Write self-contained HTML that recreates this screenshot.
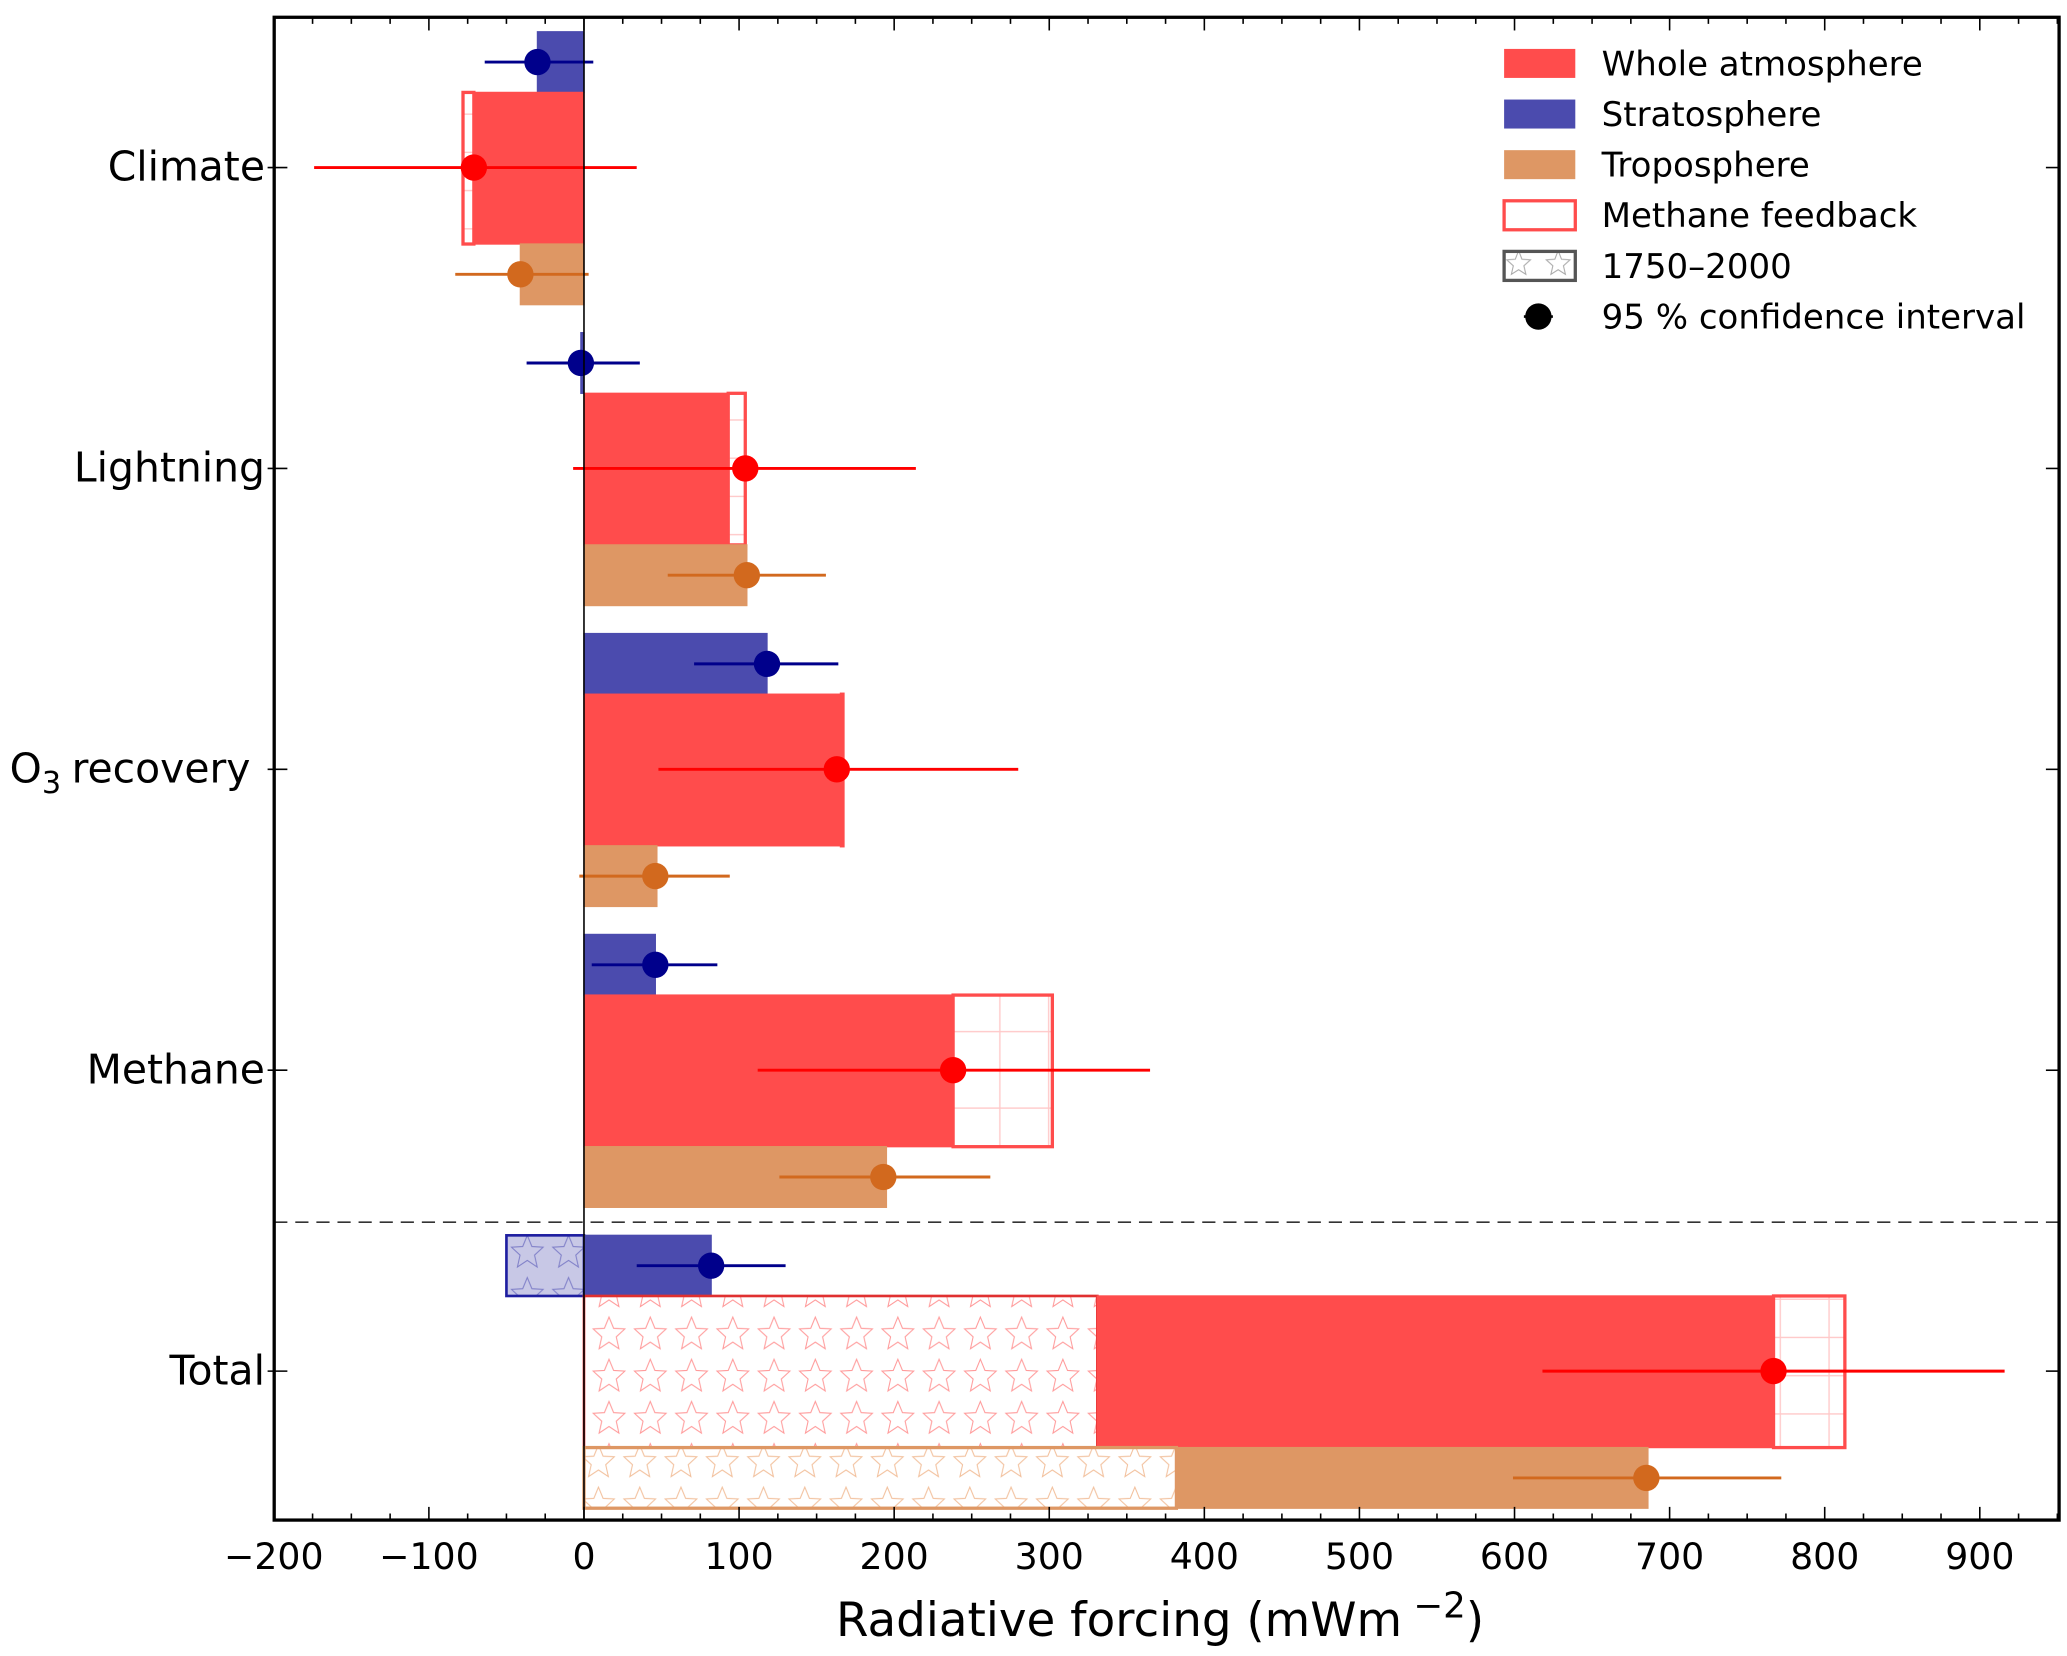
<!DOCTYPE html>
<html><head><meta charset="utf-8"><style>
html,body{margin:0;padding:0;background:#fff}
svg{display:block}
text{font-family:"DejaVu Sans","Liberation Sans",sans-serif}
</style></head><body>
<svg id="chart" width="2067" height="1656" viewBox="0 0 1568 1256" xmlns="http://www.w3.org/2000/svg">
<defs>
<pattern id="starsRed" patternUnits="userSpaceOnUse" width="31.3" height="32" x="447" y="997"><path d="M15,2 L18.5,10.5 L27,11 L20.5,17 L22.5,26 L15,21 L7.5,26 L9.5,17 L3,11 L11.5,10.5 Z" fill="none" stroke="#ff9a9a" stroke-width="0.8"/></pattern>
<pattern id="starsOrange" patternUnits="userSpaceOnUse" width="31.3" height="32" x="439" y="1094"><path d="M15,2 L18.5,10.5 L27,11 L20.5,17 L22.5,26 L15,21 L7.5,26 L9.5,17 L3,11 L11.5,10.5 Z" fill="none" stroke="#f2c09c" stroke-width="0.8"/></pattern>
<pattern id="starsBlue" patternUnits="userSpaceOnUse" width="31.3" height="32" x="385" y="935"><path d="M15,2 L18.5,10.5 L27,11 L20.5,17 L22.5,26 L15,21 L7.5,26 L9.5,17 L3,11 L11.5,10.5 Z" fill="none" stroke="#8080c8" stroke-width="0.8"/></pattern>
<pattern id="starsGrey" patternUnits="userSpaceOnUse" width="30" height="24" x="1141" y="189"><path d="M11,1 L13.5,7.5 L20,8 L15,12.5 L16.5,19 L11,15.5 L5.5,19 L7,12.5 L2,8 L8.5,7.5 Z" fill="none" stroke="#aaa" stroke-width="0.8"/></pattern>
<pattern id="grid" patternUnits="userSpaceOnUse" width="37" height="29"><path d="M18.5,0 V29 M0,28.5 H37" stroke="#ffc8c8" stroke-width="1" fill="none"/></pattern>
</defs>
<g id="plot"></g>
</svg>
<script>
const categories = ["Climate","Lightning","O3 recovery","Methane","Total"];
const stratVal = [-30, -2, 118, 46, 82];
const stratLo = [-64, -37, 71, 5, 34];
const stratHi = [6, 36, 164, 86, 130];
const wholeVal = [-71, 93, 166, 238, 767];
const wholeFeedback = [-78, 104, 167, 302, 813];
const wholePoint = [-71, 104, 163, 238, 767];
const wholeLo = [-174, -7, 48, 112, 618];
const wholeHi = [34, 214, 280, 365, 916];
const tropVal = [-41, 105, 47, 195, 686];
const tropPoint = [-41, 105, 46, 193, 685];
const tropLo = [-83, 54, -3, 126, 599];
const tropHi = [3, 156, 94, 262, 772];
const preStrat = -50, preWhole = 331, preTrop = 382;
const xTicks = [-200,-100,0,100,200,300,400,500,600,700,800,900];

const NS="http://www.w3.org/2000/svg";
const L=208,R=1562,T=13,B=1153;
const X=v=>443+v*1.1765;
const Y=i=>127+i*228.25;
const g=document.getElementById('plot');
function el(tag,attrs,parent){const e=document.createElementNS(NS,tag);for(const k in attrs)e.setAttribute(k,attrs[k]);(parent||g).appendChild(e);return e;}
function rect(v0,v1,y0,h,attrs){const a=Math.min(X(v0),X(v1)),b=Math.max(X(v0),X(v1));attrs.x=a;attrs.y=y0;attrs.width=Math.max(b-a,0.8);attrs.height=h;return el('rect',attrs);}

const sep=el('line',{x1:L,x2:R,y1:927,y2:927,stroke:'#333','stroke-width':1.2,'stroke-dasharray':'10,6'});



categories.forEach((c,i)=>{
  const cy=Y(i);
  if(i===4){let r=rect(preStrat,0,cy-103,46,{fill:'#c8c8e6',stroke:'none'});
    
    
    rect(preStrat,0,cy-103,46,{fill:'url(#starsBlue)',stroke:'#1e1ea0','stroke-width':2});}
  let s=rect(0,stratVal[i],cy-103,46,{fill:'#4b4bae',stroke:'#4b4bae','stroke-width':1});
  
  
  if(i===4){let r=rect(0,preWhole,cy-57,115,{fill:'url(#starsRed)',stroke:'#e03030','stroke-width':2});
    
    }
  let fb=rect(wholeVal[i],wholeFeedback[i],cy-57,115,{fill:'url(#grid)',stroke:'#ff4c4c','stroke-width':2.5});
  
  
  let w=rect(i===4?preWhole:0,wholeVal[i],cy-57,115,{fill:'#ff4c4c',stroke:'#ff4c4c','stroke-width':1});
  
  
  if(i===4){let r=rect(0,preTrop,cy+58,46,{fill:'url(#starsOrange)',stroke:'#de9764','stroke-width':2.5});
    
    }
  let t=rect(i===4?preTrop:0,tropVal[i],cy+58,46,{fill:'#de9764',stroke:'#de9764','stroke-width':1});
  
  
  [[stratVal[i],stratLo[i],stratHi[i],cy-80,'#00008b'],[wholePoint[i],wholeLo[i],wholeHi[i],cy,'#ff0000'],[tropPoint[i],tropLo[i],tropHi[i],cy+81,'#d2691e']].forEach(p=>{
    const ln=el('line',{x1:X(p[1]),x2:X(p[2]),y1:p[3],y2:p[3],stroke:p[4],'stroke-width':2.2});
    
    
    const ci=el('circle',{cx:X(p[0]),cy:p[3],r:10,fill:p[4]});
    
    
  });
});
el('line',{x1:X(0),x2:X(0),y1:T,y2:B,stroke:'#000','stroke-width':1.2});

const fr=el('rect',{x:L,y:T,width:R-L,height:B-T,fill:'none',stroke:'#000','stroke-width':2.5});


for(let v=-200;v<=950;v+=25){const major=v%100===0,len=major?10:5;
  el('line',{x1:X(v),x2:X(v),y1:B,y2:B-len,stroke:'#000','stroke-width':1.2});
  el('line',{x1:X(v),x2:X(v),y1:T,y2:T+len,stroke:'#000','stroke-width':1.2});}
xTicks.forEach(v=>{const t=el('text',{x:X(v),y:1190,'font-size':27.5,'text-anchor':'middle'});t.textContent=(v<0?'\u2212'+(-v):v);
  
  });
const xl=el('text',{x:880,y:1241,'font-size':35.5,'text-anchor':'middle'});xl.innerHTML='Radiative forcing (mWm<tspan dy="-14" font-size="27"> \u22122</tspan><tspan dy="14">)</tspan>';


categories.forEach((c,i)=>{const cy=Y(i);
  el('line',{x1:L-5,x2:L+10,y1:cy,y2:cy,stroke:'#000','stroke-width':1.2});
  el('line',{x1:R-10,x2:R,y1:cy,y2:cy,stroke:'#000','stroke-width':1.2});
  const t=el('text',{x:i===2?190:201,y:cy+10,'font-size':31,'text-anchor':'end'});
  if(i===2)t.innerHTML='O<tspan dy="8" font-size="23">3</tspan><tspan dy="-8" dx="8">recovery</tspan>';else t.textContent=c;
  
  });

const leg=[['Whole atmosphere',{fill:'#ff4c4c'}],['Stratosphere',{fill:'#4b4bae'}],['Troposphere',{fill:'#de9764'}],['Methane feedback',{fill:'#fff',stroke:'#ff4c4c','stroke-width':2.5}],['1750\u20132000',{fill:'url(#starsGrey)',stroke:'#555','stroke-width':2.5}],['95 % confidence interval',null]];
leg.forEach((e,k)=>{const y=48+k*38.4;
  if(e[1]){const a=Object.assign({x:1141,y:y-11,width:54,height:22},e[1]);const r=el('rect',a);
    
    }
  else{el('line',{x1:1156,x2:1178,y1:y,y2:y,stroke:'#000','stroke-width':2});el('circle',{cx:1167,cy:y,r:10,fill:'#000'});}
  const t=el('text',{x:1215,y:y+9,'font-size':25.8});t.textContent=e[0];
  
  });
</script>
</body></html>
